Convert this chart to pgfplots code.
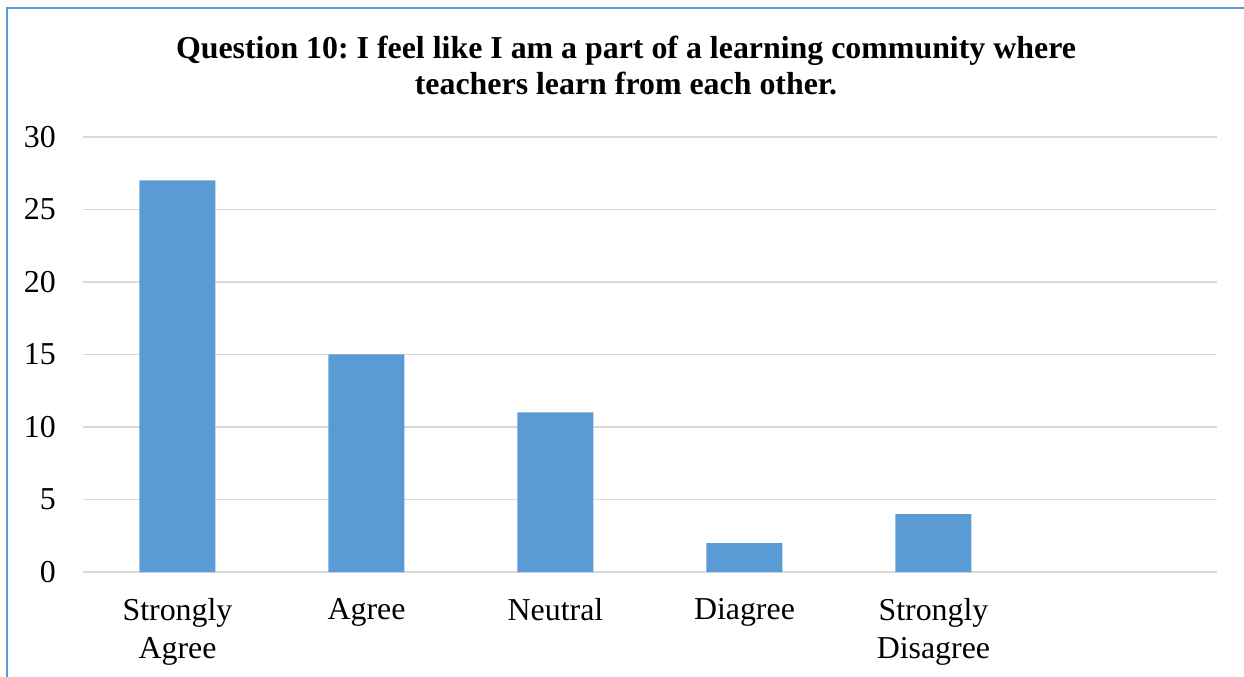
\documentclass[border=0pt]{standalone}
\usepackage{fontspec}
\setmainfont{Liberation Serif}
\usepackage{pgfplots}
\pgfplotsset{compat=1.18}
\definecolor{barblue}{HTML}{5B9BD5}
\definecolor{gridgray}{HTML}{D9D9D9}
\frenchspacing
\begin{document}
\begin{tikzpicture}
\useasboundingbox (-83bp,-105bp) rectangle (1161bp,572bp);
\draw[barblue, line width=2bp] (-76bp,-107bp) -- (-76bp,564bp) -- (1163bp,564bp);
\begin{axis}[
  at={(0,0)}, anchor=south west,
  scale only axis, width=1134bp, height=435bp,
  xmin=-0.5, xmax=5.5, ymin=0, ymax=30,
  ytick={0,5,10,15,20,25,30},
  xtick={0,1,2,3,4},
  xticklabels={{Strongly\\Agree},Agree,Neutral,Diagree,{Strongly\\Disagree}},
  axis line style={draw=none},
  major tick length=0pt,
  tick style={draw=none},
  ymajorgrids, grid style={gridgray, line width=1.8bp},
  tick label style={font=\fontsize{32}{38}\selectfont},
  /pgf/number format/assume math mode=true,
  yticklabel style={inner sep=0pt, xshift=-27bp},
  xticklabel style={align=center, inner sep=0pt, yshift=-26bp, anchor=north},
]
\addplot[ybar, bar width=76bp, fill=barblue, draw=none] coordinates {(0,27) (1,15) (2,11) (3,2) (4,4)};
\end{axis}
\node[anchor=base, inner sep=0pt, font=\fontsize{32}{38}\selectfont\bfseries] at (543bp,513bp) {Question 10: I feel like I am a part of a learning community where};
\node[anchor=base, inner sep=0pt, font=\fontsize{32}{38}\selectfont\bfseries] at (543bp,477bp) {teachers learn from each other.};
\end{tikzpicture}
\end{document}
